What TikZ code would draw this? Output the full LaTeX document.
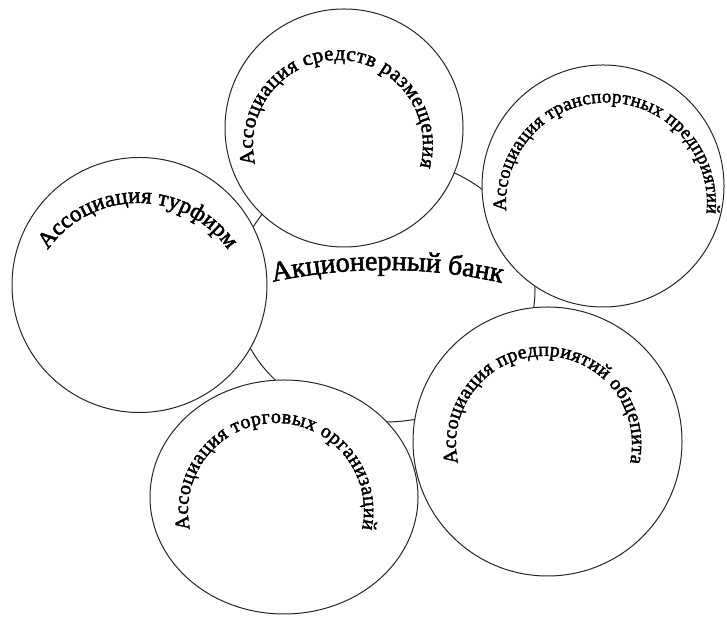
\documentclass[tikz,border=0pt]{standalone}
\usepackage{fontspec}
\setmainfont{Liberation Serif}
\newfontfamily\wordart{Liberation Serif}[FakeBold=2]
\usepackage{tikz}
\usetikzlibrary{shapes.geometric, decorations.text}
\definecolor{rimgrey}{HTML}{262626}

\begin{document}
\begin{tikzpicture}[x=1pt, y=1pt,
  ring/.style={circle, draw=rimgrey, line width=1pt, fill=white,
    inner sep=0pt},
  oval/.style={ellipse, draw=rimgrey, line width=1pt, fill=white,
    inner sep=0pt},
  arctext/.style 2 args={decorate, decoration={text along path,
    text={|\wordart\fontsize{#1}{#1}\selectfont|#2}, text align=fit to path}}]
  \useasboundingbox (0,0) rectangle (727,617);
  % the bank sits underneath, the five associations cover it
  \node[oval, minimum width=300pt, minimum height=264pt] (bank) at (385,327) {};
  \node[ring, minimum size=238pt] (razm) at (344,489) {};
  \node[ring, minimum size=242pt] (trans) at (603,431) {};
  \node[ring, minimum size=255pt] (tur) at (139.5,332) {};
  \node[ring, minimum size=269pt] (obshch) at (547.5,175.5) {};
  \node[oval, minimum width=268pt, minimum height=234pt] (torg) at (284,120) {};
  % curved captions
  \path[arctext={28}{Акционерный банк}]
    (385,-191) ++(102:538pt) arc[start angle=102, end angle=78, radius=538pt];
  \path[arctext={21}{Ассоциация средств размещения}]
    (338,472) ++(193:85pt) arc[start angle=193, end angle=-15, radius=85pt];
  \path[arctext={19}{Ассоциация транспортных предприятий}]
    (606.5,414) ++(184.5:100.5pt) arc[start angle=184.5, end angle=-6, radius=100.5pt];
  \path[arctext={23}{Ассоциация турфирм}]
    (138,304) ++(145:110pt) arc[start angle=145, end angle=35, radius=110pt];
  \path[arctext={20}{Ассоциация предприятий общепита}]
    (544,173) ++(192.5:88pt) arc[start angle=192.5, end angle=-12.5, radius=88pt];
  \path[arctext={20}{Ассоциация торговых организаций}]
    (276,106) ++(192:88pt) arc[start angle=192, end angle=-12, radius=88pt];
\end{tikzpicture}
\end{document}
